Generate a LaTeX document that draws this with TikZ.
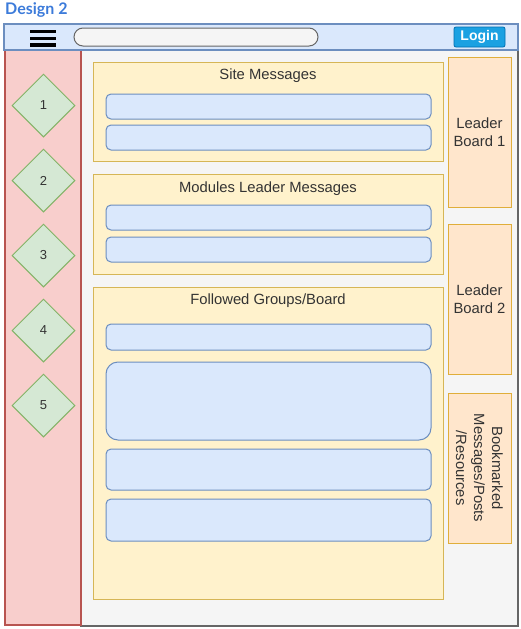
\documentclass[tikz,border=0pt]{standalone}
\usepackage{fontspec}
\setmainfont{Liberation Sans}
\newfontfamily\titlefont{Lato}
\usepackage{xcolor}
\usetikzlibrary{positioning,shapes.geometric}
\definecolor{headblue}{HTML}{3C7BDA}
\definecolor{barfill}{HTML}{DAE8FC}
\definecolor{barline}{HTML}{6C8EBF}
\definecolor{sidefill}{HTML}{F8CECC}
\definecolor{sideline}{HTML}{B85450}
\definecolor{navfill}{HTML}{D5E8D4}
\definecolor{navline}{HTML}{82B366}
\definecolor{panelfill}{HTML}{FFF2CC}
\definecolor{panelline}{HTML}{D6B656}
\definecolor{boardfill}{HTML}{FFE6CC}
\definecolor{boardline}{HTML}{E0AE3A}
\definecolor{panefill}{HTML}{F5F5F5}
\definecolor{paneline}{HTML}{666666}
\definecolor{loginfill}{HTML}{1BA1E2}
\definecolor{loginline}{HTML}{006EAF}
\definecolor{inktext}{HTML}{333333}
\tikzset{
  box/.style={rectangle, inner sep=0pt, outer sep=0pt, anchor=north west},
  mainpane/.style={box, draw=paneline, fill=panefill, line width=1.2pt},
  sidebar/.style={box, draw=sideline, fill=sidefill, line width=2pt},
  topbar/.style={box, draw=barline, fill=barfill, line width=2pt},
  searchbox/.style={box, draw=paneline, fill=panefill, line width=1pt, rounded corners=9pt},
  loginbtn/.style={box, draw=loginline, fill=loginfill, line width=0.8pt, rounded corners=2pt,
    text=white, font=\fontsize{14}{16}\selectfont\bfseries},
  menubar/.style={box, fill=black, minimum width=26pt, minimum height=3.6pt},
  navitem/.style={diamond, draw=navline, fill=navfill, line width=1pt, inner sep=0pt,
    minimum width=63pt, minimum height=63pt, text=inktext, font=\fontsize{13}{15}\selectfont},
  panel/.style={box, draw=panelline, fill=panelfill, line width=1pt, minimum width=350pt},
  panelhead/.style={inner sep=0pt, text=inktext, font=\fontsize{14.8}{17}\selectfont},
  msgbar/.style={box, draw=barline, fill=barfill, line width=1pt, rounded corners=5pt,
    minimum width=325pt},
  board/.style={box, draw=boardline, fill=boardfill, line width=1pt,
    minimum width=63pt, minimum height=150pt},
  boardtext/.style={inner sep=0pt, align=center, text=inktext, font=\fontsize{14.8}{18}\selectfont},
}
\begin{document}
\begin{tikzpicture}[x=1pt,y=-1pt]
  \useasboundingbox (0,0) rectangle (521,629);
  % Title
  \node[anchor=north west, inner sep=0pt, text=headblue, font=\titlefont\fontsize{16}{18}\selectfont\bfseries]
    (title) at (5,2) {Design 2};
  % Frame
  \node[mainpane, minimum width=437pt, minimum height=576pt] (pane) at (81,50) {};
  \node[sidebar, minimum width=76pt, minimum height=575pt] (side) at (5,50) {};
  \node[topbar, minimum width=514pt, minimum height=26pt] (top) at (4,24) {};
  % Top bar
  \foreach \y [count=\i] in {29.5,36.5,43} {\node[menubar] (menu\i) at (30,\y) {};}
  \node[searchbox, minimum width=244pt, minimum height=18pt] (search) at (74,28) {};
  \node[loginbtn, minimum width=51pt, minimum height=20pt] (login) at (454,27) {Login};
  % Side navigation
  \foreach \n in {1,...,5} {\node[navitem] (nav\n) at (43.5,30.5+75*\n) {\n};}
  % Site messages
  \node[panel, minimum height=99pt] (site) at (93,62) {};
  \node[panelhead, below=7pt of site.north] (siteLbl) {Site Messages};
  \foreach \y [count=\i] in {94,125} {\node[msgbar, minimum height=25pt] (siteBar\i) at (106,\y) {};}
  % Modules leader messages
  \node[panel, minimum height=100pt] (mods) at (93,174) {};
  \node[panelhead, below=8pt of mods.north] (modsLbl) {Modules Leader Messages};
  \foreach \y [count=\i] in {205,237} {\node[msgbar, minimum height=25pt] (modsBar\i) at (106,\y) {};}
  % Followed groups/board
  \node[panel, minimum height=312pt] (follow) at (93,287) {};
  \node[panelhead, below=7pt of follow.north] (followLbl) {Followed Groups/Board};
  \node[msgbar, minimum height=26pt] (followBar1) at (106,324) {};
  \node[msgbar, minimum height=78pt, rounded corners=12pt] (followBar2) at (106,362) {};
  \node[msgbar, minimum height=41pt] (followBar3) at (106,449) {};
  \node[msgbar, minimum height=42pt] (followBar4) at (106,499) {};
  % Boards
  \node[board] (board1) at (448,57) {};
  \node[boardtext] (board1Lbl) at (board1.center) {Leader\\Board 1};
  \node[board] (board2) at (448,224) {};
  \node[boardtext] (board2Lbl) at (board2.center) {Leader\\Board 2};
  \node[board] (marks) at (448,393) {};
  \node[boardtext, rotate=-90] (marksLbl) at (marks.center) {Bookmarked\\Messages/Posts\\/Resources};
\end{tikzpicture}
\end{document}
